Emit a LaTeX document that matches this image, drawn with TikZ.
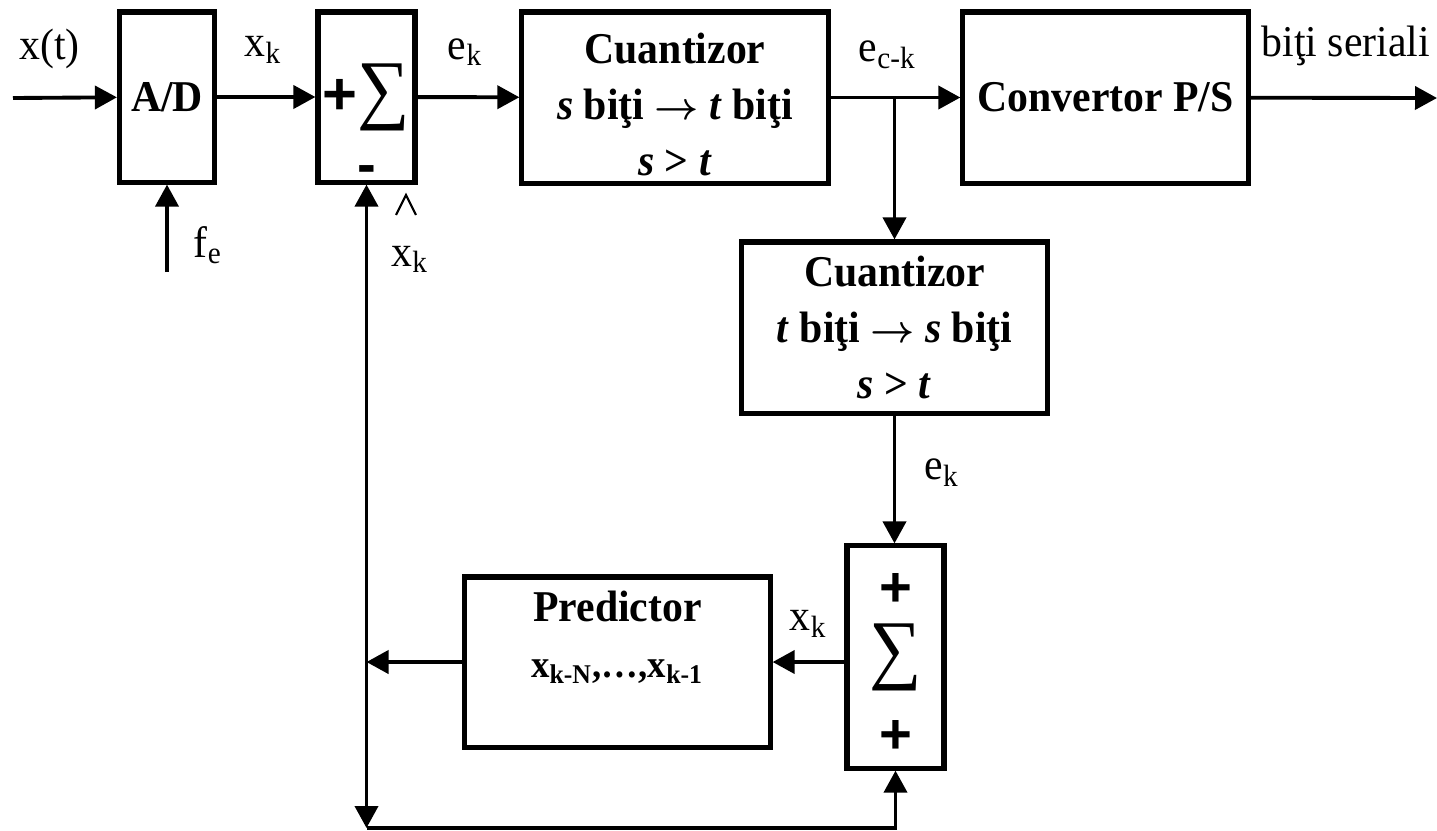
\documentclass[tikz,border=0pt]{standalone}
\usepackage{fontspec}
\setmainfont{Liberation Serif}[FakeStretch=0.95]
\newfontfamily\signfont{Liberation Sans}
\newcommand{\sumsign}{{\fontsize{22pt}{22pt}\selectfont\mdseries ∑}}
\newcommand{\toarrow}{{\fontsize{10.5pt}{10.5pt}\selectfont$\boldsymbol{\rightarrow}$}}
\usepackage{amsmath}
\usetikzlibrary{arrows.meta,positioning,calc}

\begin{document}
\begin{tikzpicture}[
    x=0.01cm, y=-0.01cm,
    font=\fontsize{12.5pt}{16pt}\selectfont,
    box/.style={
        draw,
        line width=1.45pt,
        inner sep=0pt,
        align=center,
        font=\fontsize{12.5pt}{16pt}\selectfont\bfseries
    },
    sumbox/.style={box, minimum width=0.97cm},
    lbl/.style={anchor=base, inner sep=0pt},
    sgn/.style={font=\signfont\bfseries\fontsize{16pt}{16pt}\selectfont, inner sep=0pt},
    arr/.style={-{Triangle[length=2.2mm, width=2.3mm]}, line width=1.1pt}
]
    \useasboundingbox (0,0) rectangle (1437,830);

    %% Esantionare si diferenta
    \node[box, minimum width=0.95cm, minimum height=1.70cm] (ad) at (167,97) {A/D};
    \node[sumbox, minimum height=1.70cm] (sum1) at (366.5,97)
        {{\signfont\fontsize{17pt}{17pt}\selectfont+}\sumsign};
    \node[sgn] (minus) at ([yshift=0.10cm]sum1.south) {-};
    %% Cuantizor direct
    \node[box, minimum width=3.06cm, minimum height=1.71cm] (cq1) at (675,97.5)
        {\rule{0pt}{12.5pt}Cuantizor\\\textit{s} biţi \toarrow\ \textit{t} biţi\\\textit{s} > \textit{t}};
    %% Convertor
    \node[box, minimum width=2.85cm, minimum height=1.71cm] (conv) at (1105.5,97.5) {Convertor P/S};
    %% Cuantizor invers
    \node[box, minimum width=3.05cm, minimum height=1.71cm] (cq2) at (894.5,327.5)
        {Cuantizor\\\textit{t} biţi \toarrow\ \textit{s} biţi\\\textit{s} > \textit{t}};
    %% Sumator de reconstructie
    \node[sumbox, minimum height=2.22cm] (sum2) at (895.5,657) {\sumsign};
    \node[sgn] (plusA) at (895.5,590) {+};
    \node[sgn] (plusB) at (895.5,737) {+};
    %% Predictor
    \node[box, minimum width=3.05cm, minimum height=1.70cm] (pred) at (617.5,662)
        {Predictor\\{\fontsize{11pt}{14pt}\selectfont x\textsubscript{k-N},\ldots,x\textsubscript{k-1}}\\\mbox{}};

    \coordinate (in) at (13,98);
    \coordinate (out) at (1437,98);
    \coordinate (fs) at (167,272);
    \coordinate (br) at (cq2.north |- cq1.east);
    \coordinate (jn) at (sum1.south |- pred.west);
    \coordinate (low) at (sum1.south |- 0,828);

    %% Sageti
    \draw[arr] (in) -- node[lbl, pos=0.35, yshift=0.38cm] (lxt) {x(t)} (ad);
    \draw[arr] (fs) -- node[lbl, anchor=base west, pos=0.17, xshift=0.25cm] (lfe) {f\textsubscript{e}} (ad);
    \draw[arr] (ad) -- node[lbl, pos=0.47, yshift=0.40cm] (lxk) {x\textsubscript{k}} (sum1);
    \draw[arr] (sum1) -- node[lbl, pos=0.47, yshift=0.38cm] (lek) {e\textsubscript{k}} (cq1);
    \draw[arr] (cq1) -- node[lbl, pos=0.44, yshift=0.36cm] (lec) {e\textsubscript{c-k}} (conv);
    \draw[arr] (conv) -- node[lbl, pos=0.51, yshift=0.41cm] (lbs) {biţi seriali} (out);
    \draw[arr] (br) -- (cq2);
    \draw[arr] (cq2.south) -- node[lbl, anchor=base west, midway, xshift=0.28cm] (lek2) {e\textsubscript{k}} (cq2.south |- sum2.north);
    \draw[arr] (sum2.west |- pred.east) -- node[lbl, midway, yshift=0.31cm] (lxk2) {x\textsubscript{k}} (pred.east);
    \draw[arr] (pred.west) -- (jn);
    \draw[arr] (jn) -- (sum1.south);
    \draw[arr] (jn) -- (low);
    \draw[arr] (low) -| (sum2.south);
    %% Estimare (x cu caciula)
    \node[lbl] (lxh) at (410,266) {x\textsubscript{k}};
    \draw[line width=0.6pt] ([xshift=-0.14cm, yshift=0.51cm]lxh.base) -- ++(0.1cm,0.2cm) -- ++(0.1cm,-0.2cm);
\end{tikzpicture}
\end{document}
